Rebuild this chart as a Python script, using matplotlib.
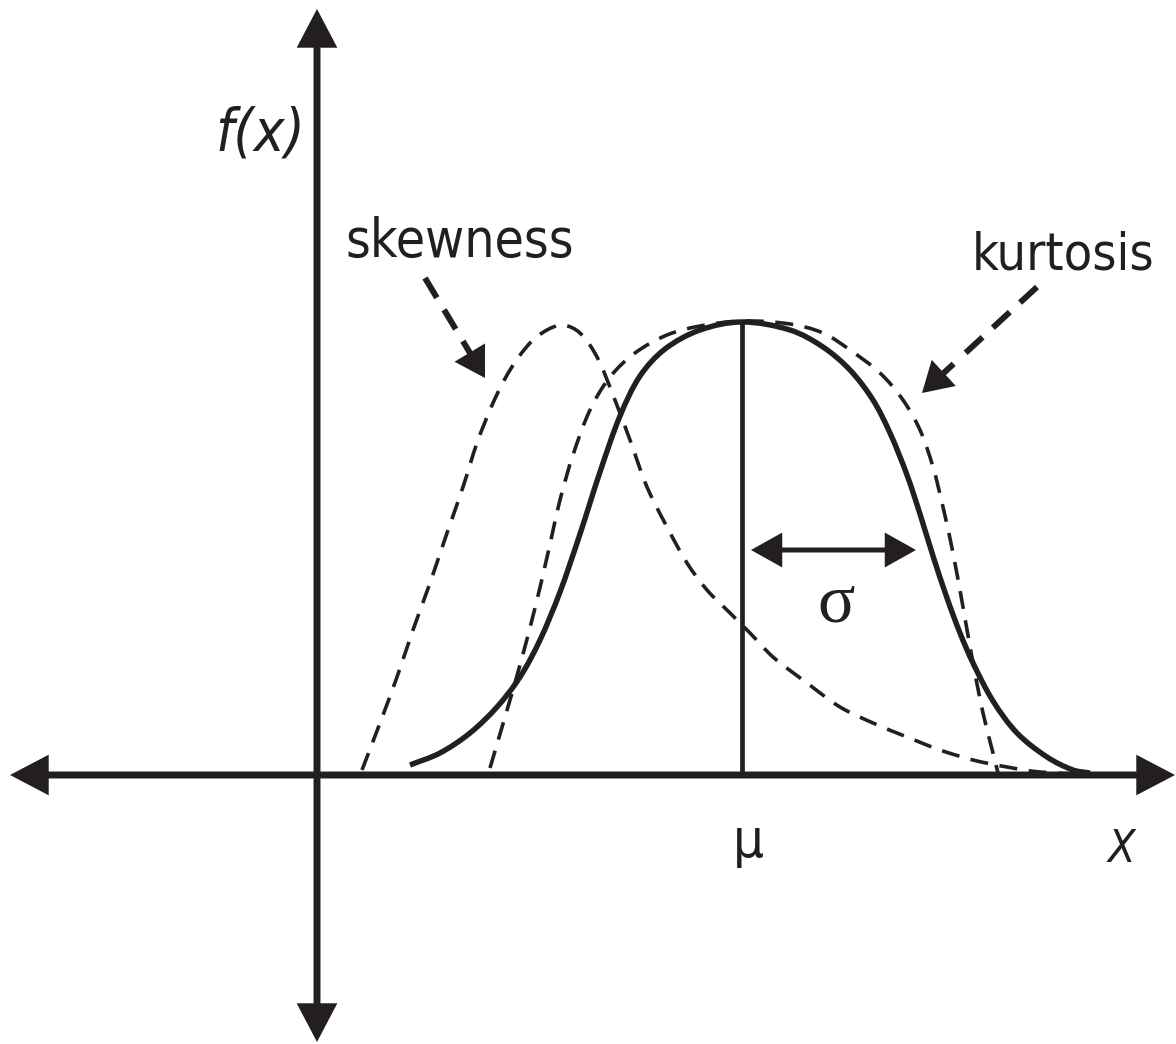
import matplotlib
matplotlib.use("Agg")
import matplotlib.pyplot as plt
import matplotlib.font_manager as fm
from matplotlib.path import Path
from matplotlib.patches import PathPatch
import numpy as np

# ---------------- data (chart units: x from the vertical axis, y = height above x axis) ----
normal_x = [93, 123, 153, 180, 203, 223, 243, 263, 283, 303, 323, 348, 383, 425,
            473, 506, 533, 556, 573, 590, 603, 616, 630, 643, 656, 676, 700, 730, 756, 773]
normal_y = [10, 22, 42, 68, 98, 135, 183, 241, 303, 359, 399, 426, 445, 453,
            445, 428, 405, 375, 342, 300, 261, 219, 177, 142, 112, 74, 42, 18, 5, 2]

kurt_x = [173, 188, 203, 218, 231, 243, 256, 273, 293, 318, 350, 383, 425, 473,
          506, 533, 563, 586, 603, 616, 626, 636, 646, 656, 666, 676, 681]
kurt_y = [7, 58, 110, 167, 222, 275, 320, 365, 398, 422, 440, 449, 454, 451,
          442, 425, 402, 375, 345, 308, 268, 222, 168, 112, 62, 22, 2]

skew_x = [45, 63, 80, 96, 113, 130, 146, 160, 176, 193, 213, 230, 246, 263, 280, 296, 313,
          330, 350, 370, 390, 413, 433, 456, 490, 523, 556, 590, 623, 656, 690, 723, 783]
skew_y = [5, 52, 98, 145, 192, 242, 288, 332, 372, 405, 432, 445, 450, 442, 418, 380, 335,
          288, 248, 212, 185, 162, 142, 118, 92, 68, 52, 38, 25, 15, 8, 3, 0]

mu = 425
mu_height = 453
sigma_span = [434, 599]
sigma_level = 225

x_axis_ends = [-307, 858]
y_axis_ends = [-267, 766]

skew_arrow = [(108, 497), (168, 397)]   # start, tip
kurt_arrow = [(720, 488), (605, 382)]

labels = {
    "fx": ("f(x)", -102, 625),
    "skew": ("skewness", 28, 518),
    "kurt": ("kurtosis", 655, 505),
    "mu": ("μ", 416, -82),
    "X": ("X", 791, -87),
    "sigma": ("σ", 519, 153),
}

# ---------------- style ----------------
INK = "#231f20"
avail = {f.name for f in fm.fontManager.ttflist}
if "Liberation Sans Narrow" in avail:
    SANS, STRETCH, SCALE = "Liberation Sans Narrow", "normal", 1.0
else:
    SANS, STRETCH, SCALE = "DejaVu Sans", "condensed", 0.85
SERIF = "Liberation Serif" if "Liberation Serif" in avail else "DejaVu Serif"

fig = plt.figure(figsize=(11.76, 10.44), dpi=100)
ax = fig.add_axes([0, 0, 1, 1])
ax.set_xlim(-317, 859)
ax.set_ylim(-269, 775)
ax.axis("off")


def smooth_curve(ax, xs, ys, **kw):
    """Draw a smooth curve through the given points (chord-length Hermite as cubic Bezier)."""
    P = np.column_stack([xs, ys]).astype(float)
    n = len(P)
    d = np.hypot(*np.diff(P, axis=0).T)
    T = np.zeros_like(P)
    T[0] = (P[1] - P[0]) / d[0]
    T[-1] = (P[-1] - P[-2]) / d[-1]
    for i in range(1, n - 1):
        T[i] = (P[i + 1] - P[i - 1]) / (d[i - 1] + d[i])
    verts = [P[0]]
    codes = [Path.MOVETO]
    for i in range(n - 1):
        verts += [P[i] + T[i] * d[i] / 3.0, P[i + 1] - T[i + 1] * d[i] / 3.0, P[i + 1]]
        codes += [Path.CURVE4] * 3
    ax.add_patch(PathPatch(Path(verts, codes), fill=False, edgecolor=INK,
                           capstyle="butt", joinstyle="round", zorder=3, **kw))


# curves
smooth_curve(ax, normal_x, normal_y, lw=3.9)
smooth_curve(ax, kurt_x, kurt_y, lw=2.6, linestyle=(0, (5.0, 3.2)))
smooth_curve(ax, skew_x, skew_y, lw=2.6, linestyle=(0, (5.0, 3.2)))

# mu line
ax.plot([mu, mu], [0, mu_height], color=INK, lw=3.4, zorder=3)


def head_arrow(ax, start, tip, style, lw, hl, hw):
    ax.annotate("", xy=tip, xytext=start,
                arrowprops=dict(arrowstyle=f"{style},head_length={hl},head_width={hw}",
                                color=INK, lw=lw, shrinkA=0, shrinkB=0,
                                joinstyle="miter", capstyle="butt", mutation_scale=1),
                zorder=4)


# axes with arrowheads
head_arrow(ax, (x_axis_ends[0], 0), (x_axis_ends[1], 0), "<|-|>", 5.0, 20, 10.5)
head_arrow(ax, (0, y_axis_ends[0]), (0, y_axis_ends[1]), "<|-|>", 5.0, 20, 10.5)

# sigma double arrow
head_arrow(ax, (sigma_span[0], sigma_level), (sigma_span[1], sigma_level), "<|-|>", 3.6, 17, 9.5)

# dashed pointer arrows
for (s, t) in (skew_arrow, kurt_arrow):
    s = np.array(s, float); t = np.array(t, float)
    u = (t - s) / np.hypot(*(t - s))
    stem = t - u * 43
    dash_end = t - u * 57
    ax.plot([s[0], dash_end[0]], [s[1], dash_end[1]], color=INK, lw=4.3,
            dashes=(3.85, 2.35), dash_capstyle="butt", zorder=4)
    head_arrow(ax, tuple(stem), tuple(t), "-|>", 4.3, 15, 9.0)


# text
def lab(key, size, family=SANS, style="normal", ha="left", stretch=STRETCH):
    s, x, y = labels[key]
    ax.text(x, y, s, fontsize=size, family=family, style=style, color=INK,
            ha=ha, va="baseline", fontstretch=stretch, zorder=5)


lab("fx", 49 * SCALE, style="italic")
lab("skew", 45 * SCALE)
lab("kurt", 44 * SCALE)
lab("mu", 46 * SCALE)
lab("X", 38 * SCALE, style="italic")
lab("sigma", 50, family=SERIF, ha="center", stretch="normal")

fig.savefig("out.png", dpi=100, facecolor="white")
